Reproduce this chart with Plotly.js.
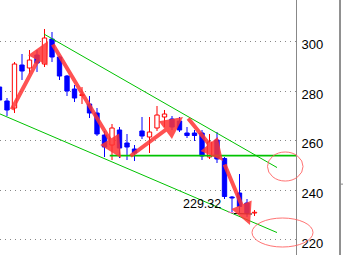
<!DOCTYPE html>
<html><head><meta charset="utf-8">
<script src="https://cdn.plot.ly/plotly-3.0.1.min.js"></script>
<style>html,body{margin:0;padding:0;background:#fff;overflow:hidden}#chart{width:343px;height:255px}</style>
</head><body><div id="chart"></div>
<script>
// OHLC candles (index = bar number)
const opens  = [281.66,276.02,273.2,290.53,289.32,294.56,290.93,301.0,293.75,286.09,280.85,278.23,274.81,271.18,262.31,258.28,264.33,259.09,256.67,263.93,261.51,265.14,269.57,268.76,267.96,263.12,263.12,263.12,253.45,260.3,252.84,237.32,238.94,234.9,230.87];
const highs  = [282.47,277.23,291.74,294.96,296.57,296.57,305.04,303.83,294.16,286.5,282.47,281.66,278.03,273.2,263.93,266.75,265.54,262.72,258.28,269.57,269.57,274.0,272.39,269.97,269.57,265.54,264.33,264.33,262.72,263.52,253.45,237.73,246.59,236.52,232.08];
const lows   = [275.2,269.97,271.18,284.48,286.9,287.71,289.72,291.74,284.48,278.03,275.61,274.81,269.16,261.91,253.45,252.24,253.04,252.24,251.83,260.7,255.06,263.93,265.54,264.33,263.52,261.1,259.9,252.24,252.64,251.03,236.52,231.28,230.87,229.32,229.67];
const closes = [276.42,272.39,290.93,288.11,292.54,291.33,301.41,293.75,286.09,280.05,277.23,278.6,271.18,262.72,257.48,265.14,257.07,257.48,255.06,261.91,263.52,270.37,270.78,265.54,264.33,262.11,262.11,253.85,259.49,252.64,237.53,236.92,233.5,230.87,231.08];

const tickVals = [220,240,260,280,300];
const tickText = ['220','240','260','280','300'];

// drawn studies (bar index, price)
const upperTrendX = [5.93, 37.0];
const upperTrendY = [303.0, 249.2];
const lowerTrendX = [0.07, 37.0];
const lowerTrendY = [270.8, 223.0];
const supportX = [14.7, 39.6];
const supportY = [254.0, 254.0];
const arrowTailX = [1.53, 6.99, 17.27, 25.0, 29.93];
const arrowTailY = [272.0, 299.4, 253.4, 269.6, 251.0];
const arrowHeadX = [6.47, 16.2, 24.47, 29.8, 33.4];
const arrowHeadY = [300.2, 253.0, 269.6, 251.8, 226.0];
const ellipseX0 = [35.73, 33.67];
const ellipseX1 = [40.47, 41.8];
const ellipseY0 = [243.77, 217.17];
const ellipseY1 = [255.46, 228.86];
const lowLabel = '229.32';
const lowLabelX = 29.8, lowLabelY = 234.5;
const lowMarkX = [30.47, 31.27];
const lowMarkY = [231.28, 230.87];
const lowMark2X = [31.27, 33.67];
const lowMark2Y = [230.67, 230.47];

const XR = [0.0667, 39.533];
const YR = [213.95, 316.73];

const RED = '#ff0000', BLUE = '#0000ff';
const incX=[], incB=[], incH=[], decX=[], decB=[], decH=[];
const wIncX=[], wIncY=[], wDecX=[], wDecY=[];
for (let i=0;i<opens.length;i++){
  const o=opens[i], c=closes[i], top=Math.max(o,c), bot=Math.min(o,c);
  const h=Math.max(top-bot,0.3);
  if (c>=o){ incX.push(i); incB.push(bot); incH.push(h); wIncX.push(i,i,null,i,i,null); wIncY.push(highs[i],bot+h,null,bot,lows[i],null); }
  else { decX.push(i); decB.push(bot); decH.push(h); wDecX.push(i,i,null,i,i,null); wDecY.push(highs[i],bot+h,null,bot,lows[i],null); }
}
const GREEN = 'rgb(0,195,0)';
const traces = [
  {type:'bar', x:decX, base:decB, y:decH, width:0.58, marker:{color:BLUE, line:{color:BLUE,width:1}}, hoverinfo:'skip'},
  {type:'bar', x:incX, base:incB, y:incH, width:0.58, marker:{color:'#ffffff', line:{color:RED,width:1}}, hoverinfo:'skip'},
  {type:'scatter', mode:'lines', x:wDecX, y:wDecY, line:{color:BLUE,width:1}, hoverinfo:'skip'},
  {type:'scatter', mode:'lines', x:wIncX, y:wIncY, line:{color:RED,width:1}, hoverinfo:'skip'},
  {type:'scatter', mode:'lines', x:upperTrendX, y:upperTrendY, line:{color:GREEN,width:1}, hoverinfo:'skip'},
  {type:'scatter', mode:'lines', x:lowerTrendX, y:lowerTrendY, line:{color:GREEN,width:1}, hoverinfo:'skip'},
  {type:'scatter', mode:'lines', x:supportX, y:supportY, line:{color:GREEN,width:1.6}, hoverinfo:'skip'},
  {type:'scatter', mode:'lines', x:lowMarkX, y:lowMarkY, line:{color:'#ff66cc',width:1}, hoverinfo:'skip'},
  {type:'scatter', mode:'lines', x:lowMark2X, y:lowMark2Y, line:{color:'#000000',width:1}, hoverinfo:'skip'}
];
const px = x => (x-XR[0])/(XR[1]-XR[0]);
const py = y => (y-YR[0])/(YR[1]-YR[0]);
const shapes = [];
for (let k=0;k<ellipseX0.length;k++){
  shapes.push({type:'circle', xref:'paper', yref:'paper', x0:px(ellipseX0[k]), x1:px(ellipseX1[k]), y0:py(ellipseY0[k]), y1:py(ellipseY1[k]), line:{color:'rgba(255,90,90,0.85)',width:1}});
}
shapes.push({type:'line', xref:'paper', yref:'paper', x0:340/296, x1:340/296, y0:0, y1:1, line:{color:'#222',width:1}});
shapes.push({type:'line', xref:'paper', yref:'paper', x0:340/296, x1:343/296, y0:0.278, y1:0.278, line:{color:'#888',width:1}});
const annotations = [];
for (let k=0;k<arrowTailX.length;k++){
  annotations.push({xref:'x', yref:'y', axref:'x', ayref:'y', x:arrowHeadX[k], y:arrowHeadY[k], ax:arrowTailX[k], ay:arrowTailY[k], text:'', showarrow:true, arrowhead:2, arrowsize:1.1, arrowwidth:4, arrowcolor:'#ff3434', opacity:0.85});
}
annotations.push({xref:'x', yref:'y', x:lowLabelX, y:lowLabelY, text:lowLabel, showarrow:false, xanchor:'right', yanchor:'middle', font:{family:'Liberation Sans, Arial', size:12.5, color:'#000'}});

const layout = {
  width:343, height:255, margin:{l:0,r:47,t:0,b:0,pad:0},
  paper_bgcolor:'#fff', plot_bgcolor:'#fff', showlegend:false, barmode:'overlay',
  xaxis:{range:XR, visible:false, fixedrange:true},
  yaxis:{range:YR, side:'right', tickvals:tickVals, ticktext:tickText, showgrid:true, gridcolor:'#888', griddash:'1px,4px', gridwidth:1,
    showline:true, linecolor:'#888', linewidth:1, ticks:'', zeroline:false, ticklabelstandoff:2, ticklabelshift:3,
    tickfont:{family:'Liberation Sans, Arial', size:13, color:'#000'}, fixedrange:true},
  shapes:shapes, annotations:annotations
};
Plotly.newPlot('chart', traces, layout, {staticPlot:true, displayModeBar:false});
</script></body></html>
